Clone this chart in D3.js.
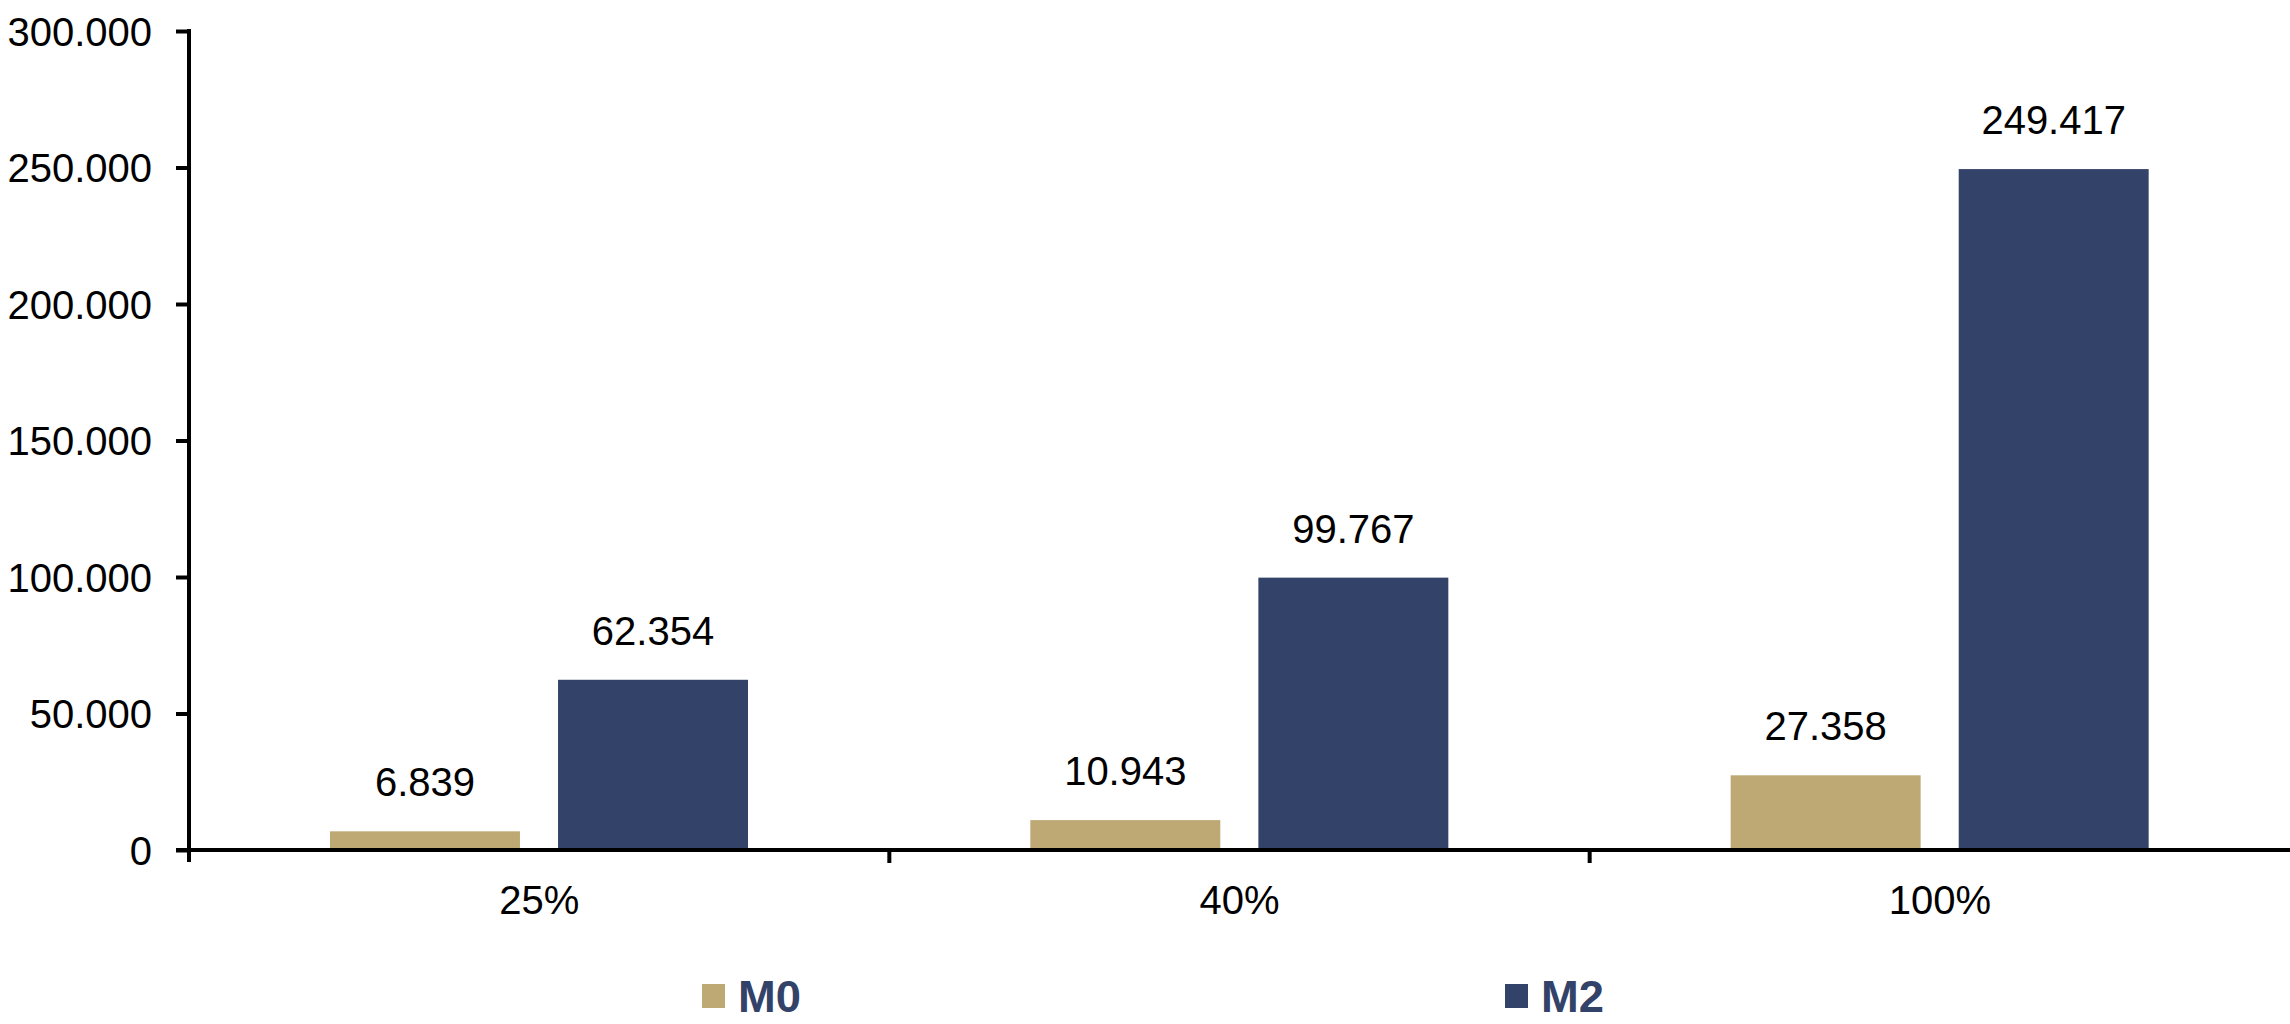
<!DOCTYPE html>
<html>
<head>
<meta charset="utf-8">
<script src="https://cdn.jsdelivr.net/npm/d3@7"></script>
<style>
  html, body { margin: 0; padding: 0; background: #fff; }
  svg { display: block; font-family: "Liberation Sans", Arial, sans-serif; }
</style>
</head>
<body>
<svg id="chart" width="2290" height="1024"></svg>
<script>
const categories = ["25%", "40%", "100%"];
const seriesNames = ["M0", "M2"];
const valuesM0 = [6839, 10943, 27358];
const valuesM2 = [62354, 99767, 249417];
const yTicks = [0, 50000, 100000, 150000, 200000, 250000, 300000];
const colors = ["#BEA874", "#334268"];

const svg = d3.select("#chart");
const locale = d3.formatLocale({ decimal: ",", thousands: ".", grouping: [3], currency: ["", ""] });
const fmt = locale.format(",.0f");

const left = 189, right = 2290, yTop = 31, yZero = 850;
const x = d3.scaleBand().domain(categories).range([left, right]).padding(0);
const xs = d3.scaleBand().domain(seriesNames).range([141, 559]).paddingInner(0.167).paddingOuter(0);
const y = d3.scaleLinear().domain([0, 300000]).range([yZero, yTop]);

const rows = categories.map((c, i) => ({ cat: c, vals: [
  { s: "M0", v: valuesM0[i], c: colors[0] },
  { s: "M2", v: valuesM2[i], c: colors[1] }
]}));

// bars
const g = svg.append("g");
const grp = g.selectAll("g.cat").data(rows).join("g")
  .attr("transform", d => `translate(${x(d.cat)},0)`);
grp.selectAll("rect").data(d => d.vals).join("rect")
  .attr("x", d => xs(d.s))
  .attr("width", xs.bandwidth())
  .attr("y", d => y(d.v))
  .attr("height", d => y(0) - y(d.v))
  .attr("fill", d => d.c);
grp.selectAll("text").data(d => d.vals).join("text")
  .attr("x", d => xs(d.s) + xs.bandwidth() / 2)
  .attr("y", d => y(d.v) - 35)
  .attr("text-anchor", "middle")
  .attr("font-size", 40)
  .attr("fill", "#000")
  .text(d => fmt(d.v));

// y axis
const yAxis = d3.axisLeft(y).tickValues(yTicks).tickSize(13).tickPadding(24).tickFormat(fmt);
const ya = svg.append("g").attr("transform", `translate(${left},0)`).call(yAxis);
ya.select(".domain").remove();
ya.selectAll(".tick line").attr("stroke", "#000").attr("stroke-width", 4);
ya.selectAll(".tick text").attr("font-size", 40).attr("fill", "#000")
  .attr("font-family", "'Liberation Sans', Arial, sans-serif").attr("dy", "0.36em");
svg.append("line").attr("x1", left).attr("x2", left)
  .attr("y1", y(300000) - 2).attr("y2", y(0) + 12)
  .attr("stroke", "#000").attr("stroke-width", 4);

// x axis
const xAxis = d3.axisBottom(x).tickSize(0).tickPadding(36);
const xa = svg.append("g").attr("transform", `translate(0,${yZero})`).call(xAxis);
xa.select(".domain").remove();
xa.selectAll(".tick text").attr("font-size", 40).attr("fill", "#000")
  .attr("font-family", "'Liberation Sans', Arial, sans-serif");
svg.append("line").attr("x1", left - 13).attr("x2", right)
  .attr("y1", yZero).attr("y2", yZero)
  .attr("stroke", "#000").attr("stroke-width", 4);
svg.selectAll("line.sep").data(categories.slice(1)).join("line")
  .attr("class", "sep")
  .attr("x1", d => x(d)).attr("x2", d => x(d))
  .attr("y1", yZero).attr("y2", yZero + 13)
  .attr("stroke", "#000").attr("stroke-width", 4);

// legend
const legendX = [702, 1505];
const lg = svg.selectAll("g.leg").data(seriesNames).join("g")
  .attr("transform", (d, i) => `translate(${legendX[i]},984)`);
lg.append("rect").attr("width", 23).attr("height", 24).attr("fill", (d, i) => colors[i]);
lg.append("text").attr("x", 36).attr("y", 28)
  .attr("font-size", 44).attr("font-weight", "bold").attr("fill", "#334268")
  .attr("textLength", 63).attr("lengthAdjust", "spacingAndGlyphs")
  .text(d => d);
</script>
</body>
</html>
